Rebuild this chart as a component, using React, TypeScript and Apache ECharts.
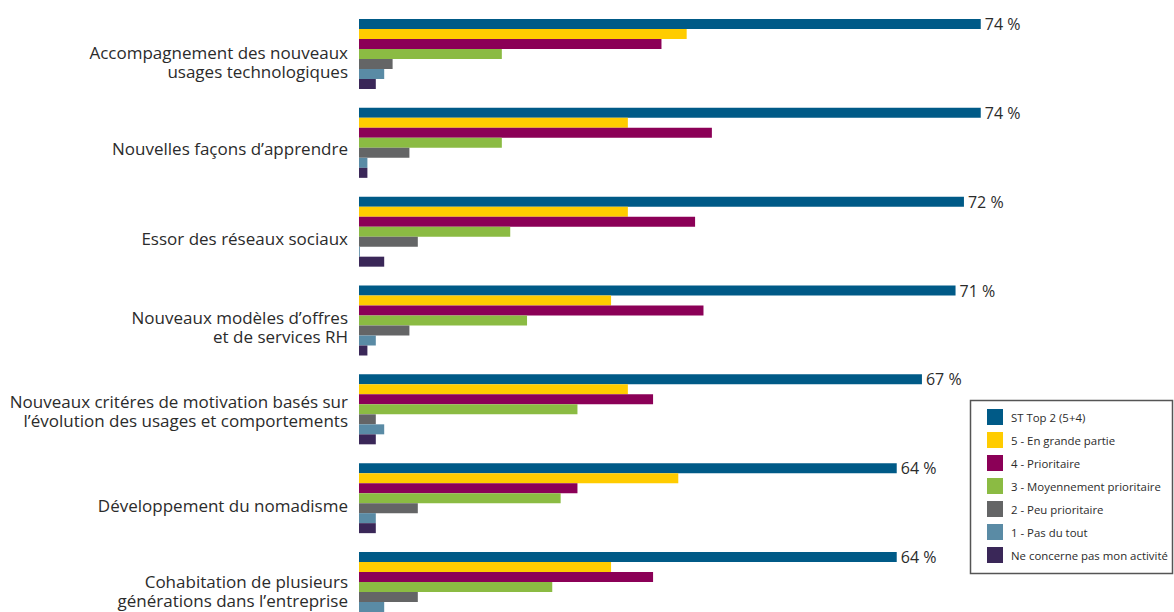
import React, { useEffect, useRef } from "react";
import * as echarts from "echarts";

const categories = [
  "Accompagnement des nouveaux\nusages technologiques",
  "Nouvelles façons d’apprendre",
  "Essor des réseaux sociaux",
  "Nouveaux modèles d’offres\net de services RH",
  "Nouveaux critéres de motivation basés sur\nl’évolution des usages et comportements",
  "Développement du nomadisme",
  "Cohabitation de plusieurs\ngénérations dans l’entreprise",
];

const seriesNames = [
  "ST Top 2 (5+4)",
  "5 - En grande partie",
  "4 - Prioritaire",
  "3 - Moyennement prioritaire",
  "2 - Peu prioritaire",
  "1 - Pas du tout",
  "Ne concerne pas mon activité",
];

const stTop2 = [74, 74, 72, 71, 67, 64, 64];
const enGrandePartie = [39, 32, 32, 30, 32, 38, 30];
const prioritaire = [36, 42, 40, 41, 35, 26, 35];
const moyennement = [17, 17, 18, 20, 26, 24, 23];
const peuPrioritaire = [4, 6, 7, 6, 2, 7, 7];
const pasDuTout = [3, 1, 0.1, 2, 3, 2, 3];
const neConcerne = [2, 1, 3, 1, 2, 2, 2];

const seriesData = [stTop2, enGrandePartie, prioritaire, moyennement, peuPrioritaire, pasDuTout, neConcerne];
const colors = ["#005A87", "#FFCC00", "#8B0057", "#8BBB43", "#646566", "#5A8BA5", "#3A2758"];

// vertical nudges of the category labels (style only)
const labelPads = [15, 12, 14, 12, 4, 14, 8];

const FONT = "'Open Sans', sans-serif";

export default function App() {
  const ref = useRef<HTMLDivElement>(null);
  useEffect(() => {
    document.body.style.margin = "0";
    const chart = echarts.init(ref.current!, null, { renderer: "svg" });
    const rich: Record<string, any> = {
      t: { fontSize: 17, lineHeight: 19, color: "#2b2b2b", fontFamily: FONT, align: "right" },
    };
    labelPads.forEach((h, i) => {
      rich["p" + i] = { height: h, lineHeight: h, fontSize: 1 };
    });
    chart.setOption({
      animation: false,
      textStyle: { fontFamily: FONT },
      grid: { left: 359, right: 0, top: 9.6, height: 621.8, containLabel: false },
      xAxis: {
        type: "value",
        min: 0,
        max: 97,
        show: false,
        splitLine: { show: false },
      },
      yAxis: {
        type: "category",
        data: categories,
        inverse: true,
        axisLine: { show: false },
        axisTick: { show: false },
        axisLabel: {
          margin: 11,
          align: "right",
          formatter: (v: string, idx: number) =>
            `{p${idx}|}\n` + v.split("\n").map((l) => `{t|${l}}`).join("\n"),
          rich,
        },
      },
      legend: {
        orient: "vertical",
        left: 987,
        top: 409,
        padding: 0,
        itemWidth: 16,
        itemHeight: 16,
        itemGap: 7,
        icon: "rect",
        textStyle: { fontSize: 11.4, color: "#2b2b2b", fontFamily: FONT, padding: [0, 0, 0, 3] },
        data: seriesNames,
      },
      graphic: [
        {
          type: "rect",
          shape: { x: 970.5, y: 400.5, width: 202, height: 173 },
          style: { fill: "none", stroke: "#555", lineWidth: 1.5 },
          z: -1,
        },
      ],
      series: seriesNames.map((name, i) => ({
        name,
        type: "bar",
        data: seriesData[i],
        barWidth: 10,
        barGap: "0%",
        itemStyle: { color: colors[i] },
        label:
          i === 0
            ? {
                show: true,
                position: "right",
                distance: 4,
                formatter: "{c} %",
                fontSize: 16,
                color: "#2b2b2b",
                fontFamily: FONT,
              }
            : { show: false },
      })),
    });
    return () => chart.dispose();
  }, []);
  return (
    <div style={{ width: 1174, height: 612, overflow: "hidden" }}>
      <div ref={ref} style={{ width: 1174, height: 650 }} />
    </div>
  );
}
